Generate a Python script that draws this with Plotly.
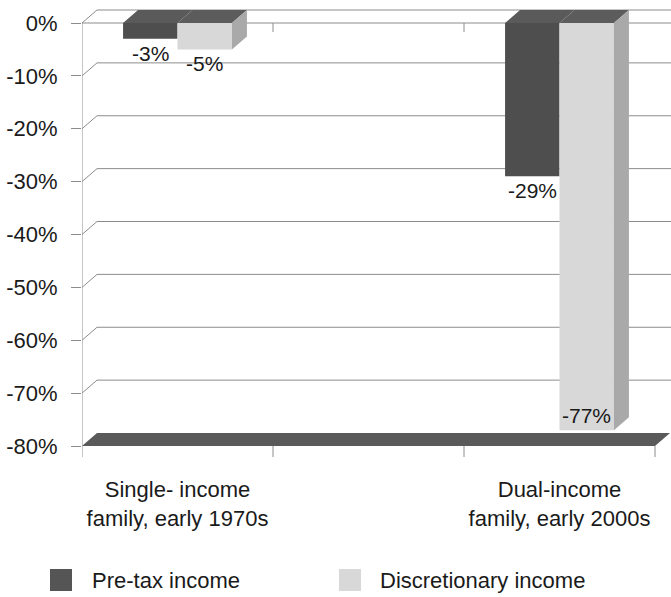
import plotly.graph_objects as go

# ---------------- data ----------------
categories = ["Single- income<br>family, early 1970s", "", "Dual-income<br>family, early 2000s"]
series_names = ["Pre-tax income", "Discretionary income"]
pretax = [-3, None, -29]
discretionary = [-5, None, -77]
y_ticks = [0, -10, -20, -30, -40, -50, -60, -70, -80]
y_tick_labels = ["0%", "-10%", "-20%", "-30%", "-40%", "-50%", "-60%", "-70%", "-80%"]

series = [pretax, discretionary]

# ---------------- styling / geometry ----------------
W, H = 671, 597
ML, MR, MT, MB = 82, 0, 4, 135
plot_w = W - ML - MR
plot_h = H - MT - MB
px_per_cat = 191.0
px_per_pct = 5.2875
x_lo = -0.5
x_hi = x_lo + plot_w / px_per_cat
y_hi = 19 / px_per_pct
y_lo = y_hi - plot_h / px_per_pct
dx = 15 / px_per_cat      # 3-D depth offset (x)
dy = 13 / px_per_pct      # 3-D depth offset (y)
y_floor = min(y_ticks)

bw = 0.285
offsets = [-bw, 0.0]
front_cols = ["#4e4e4e", "#d8d8d8"]
top_cols = ["#5a5a5a", "#5c5c5c"]
side_cols = ["#3e3e3e", "#a9a9a9"]
grid_col = "#8c8c8c"
txt_col = "#1a1a1a"
FONT = "Liberation Sans, Arial, sans-serif"
FS = 22

xs = list(range(len(categories)))

fig = go.Figure()

# front faces of bars
for k, vals in enumerate(series):
    fig.add_trace(go.Bar(
        x=xs, y=vals, width=bw, offset=offsets[k], name=series_names[k],
        marker=dict(color=front_cols[k], line=dict(width=0)),
        showlegend=False, hoverinfo="skip"))

# top and side faces (3-D look), computed from the data
for i, c in enumerate(xs):
    present = [k for k in range(len(series)) if series[k][i] is not None]
    for k in present:
        v = series[k][i]
        a = c + offsets[k]
        b = a + bw
        fig.add_trace(go.Scatter(
            x=[a, b, b + dx, a + dx, a], y=[0, 0, dy, dy, 0],
            fill="toself", fillcolor=top_cols[k], mode="lines",
            line=dict(width=0, color=top_cols[k]), showlegend=False, hoverinfo="skip"))
        if k == present[-1]:
            fig.add_trace(go.Scatter(
                x=[b, b + dx, b + dx, b, b], y=[0, dy, v + dy, v, 0],
                fill="toself", fillcolor=side_cols[k], mode="lines",
                line=dict(width=0, color=side_cols[k]), showlegend=False, hoverinfo="skip"))

shapes = []
# back-wall gridlines with slanted link to the front axis
for v in y_ticks:
    if v == y_floor:
        continue
    shapes.append(dict(type="path", xref="x", yref="y", layer="below",
                       path=f"M {x_lo},{v} L {x_lo + dx},{v + dy} L {x_hi},{v + dy}",
                       line=dict(color=grid_col, width=1)))
# front line at zero
shapes.append(dict(type="line", xref="x", yref="y", layer="below",
                   x0=x_lo, x1=x_hi, y0=0, y1=0, line=dict(color=grid_col, width=1)))
# floor slab
shapes.append(dict(type="path", xref="x", yref="y", layer="below",
                   path=(f"M {x_lo},{y_floor} L {len(xs) - 0.5},{y_floor} "
                         f"L {len(xs) - 0.5 + dx},{y_floor + dy} L {x_lo + dx},{y_floor + dy} Z"),
                   fillcolor="#5a5a5a", line=dict(width=0)))
# vertical value axis
tick_drop = 11 / px_per_pct
shapes.append(dict(type="line", xref="x", yref="y", layer="below",
                   x0=x_lo, x1=x_lo, y0=0, y1=y_floor - tick_drop,
                   line=dict(color=grid_col, width=1)))
# category separators (tick marks)
for j in range(len(xs)):
    xb = j + 0.5
    shapes.append(dict(type="line", xref="x", yref="y", layer="below",
                       x0=xb, x1=xb, y0=y_floor, y1=y_floor - tick_drop,
                       line=dict(color=grid_col, width=1)))
    if j < len(xs) - 1:
        shapes.append(dict(type="line", xref="x", yref="y", layer="below",
                           x0=xb, x1=xb, y0=0, y1=-9 / px_per_pct,
                           line=dict(color=grid_col, width=1)))

# data labels
annotations = []
label_h = 20 / px_per_pct
for i, c in enumerate(xs):
    for k, vals in enumerate(series):
        v = vals[i]
        if v is None:
            continue
        cx = c + offsets[k] + bw / 2
        inside = (v - label_h) < (y_floor + dy)
        annotations.append(dict(
            x=cx, y=v, xref="x", yref="y", text=f"{v}%", showarrow=False,
            yanchor="bottom" if inside else "top", yshift=1 if inside else -1,
            font=dict(family=FONT, size=FS - 1, color=txt_col)))

# manual legend
def px_x(p):
    return (p - ML) / plot_w

def px_y(p):
    return (MT + plot_h - p) / plot_h

legend_sq = [50, 339]
legend_tx = [90, 378]
for k in range(len(series_names)):
    shapes.append(dict(type="rect", xref="paper", yref="paper",
                       x0=px_x(legend_sq[k]), x1=px_x(legend_sq[k] + 22),
                       y0=px_y(591), y1=px_y(569),
                       fillcolor=front_cols[k] if k else "#555555",
                       line=dict(width=0)))
    annotations.append(dict(x=px_x(legend_tx[k]), y=px_y(580), xref="paper", yref="paper",
                            xanchor="left", yanchor="middle", showarrow=False,
                            text=series_names[k],
                            font=dict(family=FONT, size=FS, color=txt_col)))

fig.update_layout(
    width=W, height=H, autosize=False,
    margin=dict(l=ML, r=MR, t=MT, b=MB, pad=0),
    paper_bgcolor="white", plot_bgcolor="white",
    barmode="overlay", showlegend=False,
    shapes=shapes, annotations=annotations,
    font=dict(family=FONT, size=FS, color=txt_col),
    xaxis=dict(range=[x_lo, x_hi], tickvals=xs, ticktext=categories,
               showgrid=False, zeroline=False, showline=False, ticks="",
               ticklabelstandoff=12, tickfont=dict(family=FONT, size=FS, color=txt_col),
               fixedrange=True),
    yaxis=dict(range=[y_lo, y_hi], tickvals=y_ticks, ticktext=y_tick_labels,
               showgrid=False, zeroline=False, showline=False,
               ticks="outside", ticklen=10, tickcolor=grid_col, tickwidth=1,
               ticklabelstandoff=9, tickfont=dict(family=FONT, size=FS, color=txt_col),
               fixedrange=True),
)

fig.write_html("out.html")
